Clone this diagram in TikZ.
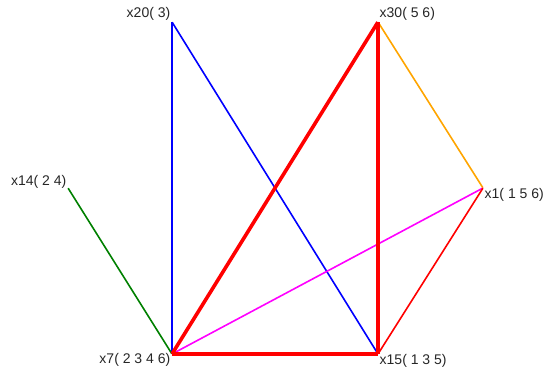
\documentclass[tikz,border=0pt]{standalone}
\usepackage{fontspec}
\setmainfont{Liberation Sans}
\definecolor{linkorange}{RGB}{255,165,0}
\definecolor{linkgreen}{RGB}{0,128,0}
\definecolor{linkmagenta}{RGB}{255,0,255}
\definecolor{linkblue}{RGB}{0,0,255}
\definecolor{linkred}{RGB}{255,0,0}
\tikzset{
  vertex/.style={inner sep=0pt, minimum size=0pt},
  vlabel/.style={font=\fontsize{14}{16}\selectfont, text=black!85, inner sep=1.5pt},
  thinlink/.style={line width=1.6pt},
  heavylink/.style={line width=3.6pt, linkred}
}
\begin{document}
\begin{tikzpicture}[x=1pt,y=-1pt]
\useasboundingbox (0,0) rectangle (545,372);
% vertices
\node [vertex] (x20) at (172,22) {};
\node [vertex] (x30) at (378,22) {};
\node [vertex] (x14) at (68,188) {};
\node [vertex] (x1) at (483,188) {};
\node [vertex] (x7) at (172,354) {};
\node [vertex] (x15) at (378,354) {};
% labels
\node [vlabel, anchor=south east] (l20) at (x20) {x20( 3)};
\node [vlabel, anchor=south west] (l30) at (x30) {x30( 5 6)};
\node [vlabel, anchor=south east] (l14) at ([yshift=-2pt]x14) {x14( 2 4)};
\node [vlabel, anchor=north west] (l1) at ([yshift=1pt]x1) {x1( 1 5 6)};
\node [vlabel, anchor=north east] (l7) at ([yshift=2pt]x7) {x7( 2 3 4 6)};
\node [vlabel, anchor=north west] (l15) at ([yshift=1pt]x15) {x15( 1 3 5)};
% links
\draw [thinlink, linkblue] (x20) -- (x15);
\draw [thinlink, linkblue] (x20) -- (x7);
\draw [thinlink, linkorange] (x30) -- (x1);
\draw [thinlink, linkgreen] (x14) -- (x7);
\draw [thinlink, linkmagenta] (x7) -- (x1);
\draw [thinlink, linkred] (x1) -- (x15);
\draw [heavylink] (x30) -- (x7);
\draw [heavylink] (x30) -- (x15);
\draw [heavylink] (x7) -- (x15);
\end{tikzpicture}
\end{document}
